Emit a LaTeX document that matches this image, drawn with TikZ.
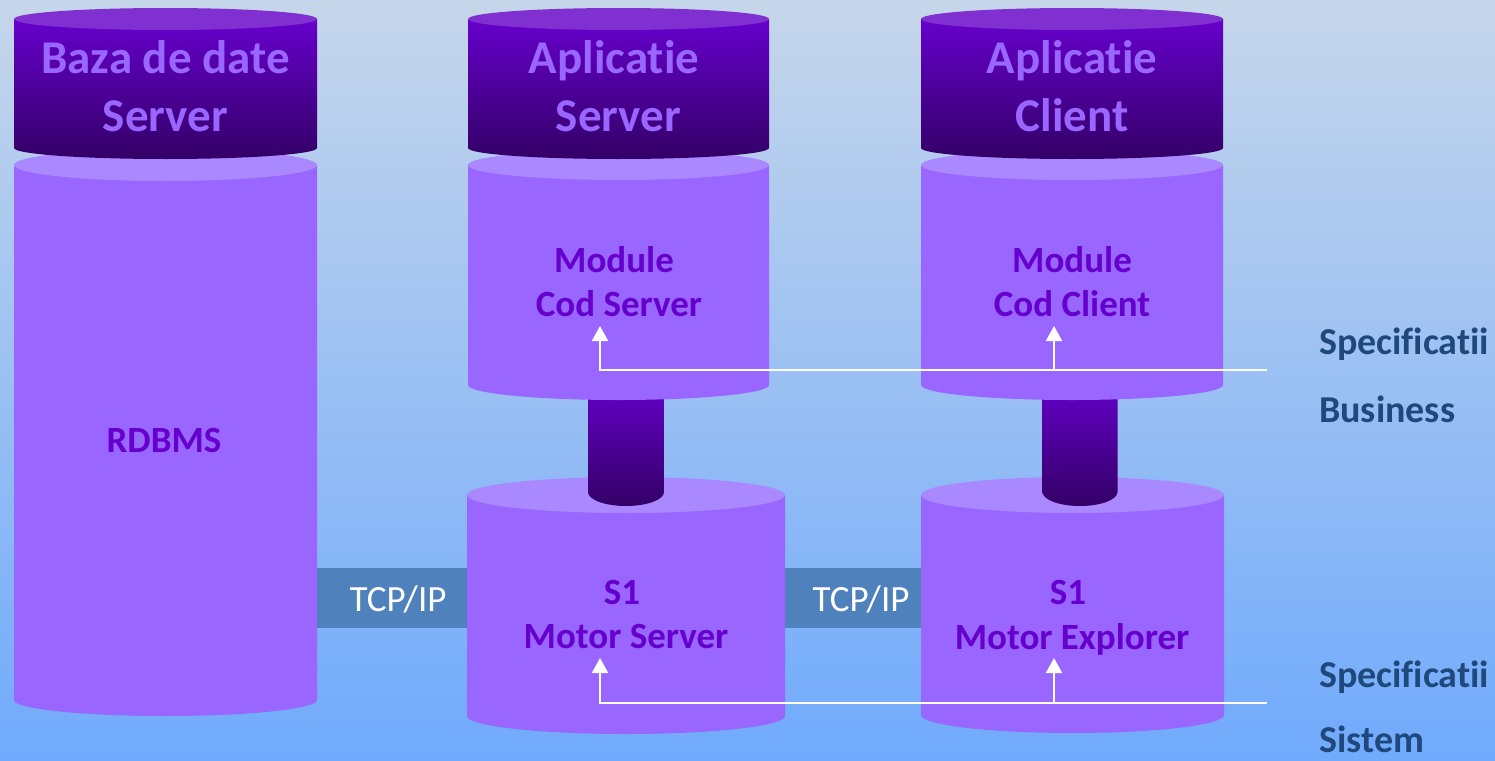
\documentclass[tikz,border=0pt]{standalone}
\usepackage{fontspec}
\setmainfont{Carlito}[Ligatures={NoCommon}]
\usetikzlibrary{arrows.meta}
\definecolor{bgtop}{HTML}{C6D6EA}
\definecolor{bgmid}{HTML}{94C4F8}
\definecolor{bgbot}{HTML}{70AAFC}
\definecolor{darkA}{HTML}{6600CC}
\definecolor{darkB}{HTML}{330066}
\definecolor{darkface}{HTML}{8030D0}
\definecolor{litebody}{HTML}{9966FF}
\definecolor{liteface}{HTML}{AA88FF}
\definecolor{tcpblue}{HTML}{4F81BD}
\definecolor{spectext}{HTML}{1F497D}
% cylinder: cx, rx, ytop, ybot, ry, body style, top face style
\newcommand\mycyl[7]{%
  \path[#6] ({#1-#2},#3) -- ({#1-#2},#4) arc[start angle=180,end angle=360,x radius=#2pt,y radius=#5pt] -- ({#1+#2},#3) -- cycle;
  \fill[#7] (#1,#3) ellipse[x radius=#2pt,y radius=#5pt];}
\tikzset{
  hdr/.style={font=\fontsize{47}{56}\selectfont\bfseries, text=litebody, inner sep=0pt, anchor=base},
  lbl/.style={font=\fontsize{37}{44}\selectfont\bfseries, text=darkA, inner sep=0pt, anchor=base},
  spec/.style={font=\fontsize{38}{44}\selectfont\bfseries, text=spectext, inner sep=0pt, anchor=base west},
  tcpband/.style={fill=tcpblue, draw=none, minimum height=60pt, inner sep=0pt},
  tcptext/.style={font=\fontsize{37}{44}\selectfont, text=white, inner sep=0pt, anchor=base},
  darkbody/.style={top color=darkA, bottom color=darkB},
  litefill/.style={fill=litebody},
  specarrow/.style={draw=white, line width=2pt, line join=miter, -{Triangle[width=16pt,length=15pt]}}
}
\begin{document}
\begin{tikzpicture}[x=1pt,y=-1pt]
\useasboundingbox (0,0) rectangle (1495,760);
\shade[top color=bgtop, middle color=bgmid, bottom color=bgbot] (0,0) rectangle (1495,760);

% TCP/IP bands (behind cylinders)
\node[tcpband, minimum width=196pt] (tcpA) at (398,598) {};
\node[tcpband, minimum width=170pt] (tcpB) at (861,598) {};

% column 1
\mycyl{165.5}{151.5}{165}{700}{16}{litefill}{fill=liteface}
\mycyl{165.5}{151.5}{19}{148}{11}{darkbody}{fill=darkface}

% column 2
\mycyl{626}{159}{495}{716}{18}{litefill}{fill=liteface}
\mycyl{626}{38}{380}{492}{14}{darkbody}{fill=darkA}
\mycyl{618.5}{150.5}{165}{385}{15}{litefill}{fill=liteface}
\mycyl{618.5}{150.5}{19}{148}{11}{darkbody}{fill=darkface}

% column 3
\mycyl{1072.5}{151.5}{495}{715}{18}{litefill}{fill=liteface}
\mycyl{1080}{37.5}{380}{492}{14}{darkbody}{fill=darkA}
\mycyl{1072}{151}{165}{385}{15}{litefill}{fill=liteface}
\mycyl{1072}{151}{19}{148}{11}{darkbody}{fill=darkface}

% headers
\node[hdr] (dbA) at (165.5,74) {Baza de date};
\node[hdr] (dbB) at (165.5,131) {Server};
\node[hdr] (asA) at (614,74) {Aplicatie};
\node[hdr] (asB) at (618.5,131) {Server};
\node[hdr] (acA) at (1072,74) {Aplicatie};
\node[hdr] (acB) at (1072,131) {Client};

% inner labels
\node[lbl] (rdbms) at (164,452) {RDBMS};
\node[lbl] (mcsA) at (614,272) {Module};
\node[lbl] (mcsB) at (619,316) {Cod Server};
\node[lbl] (mccA) at (1072,272) {Module};
\node[lbl] (mccB) at (1072,316) {Cod Client};
\node[lbl] (msA) at (622,604) {S1};
\node[lbl] (msB) at (626,648) {Motor Server};
\node[lbl] (meA) at (1068,604) {S1};
\node[lbl] (meB) at (1072,649) {Motor Explorer};

% TCP/IP labels
\node[tcptext] (tcpAt) at (398,611) {TCP/IP};
\node[tcptext] (tcpBt) at (861,611) {TCP/IP};

% specification labels
\node[spec] (specB1) at (1319,354) {Specificatii};
\node[spec] (specB2) at (1319,422) {Business};
\node[spec] (specS1) at (1319,687) {Specificatii};
\node[spec] (specS2) at (1319,752) {Sistem};

% arrows
\coordinate (bizEnd) at (1267,370);
\coordinate (bizMid) at (1054,370);
\coordinate (bizLeft) at (600,370);
\coordinate (bizTipA) at (600,326);
\coordinate (bizTipB) at (1054,326);
\draw[specarrow] (bizEnd) -- (bizLeft) -- (bizTipA);
\draw[specarrow] (bizMid) -- (bizTipB);

\coordinate (sysEnd) at (1267,703);
\coordinate (sysMid) at (1054,703);
\coordinate (sysLeft) at (600,703);
\coordinate (sysTipA) at (600,658);
\coordinate (sysTipB) at (1054,658);
\draw[specarrow] (sysEnd) -- (sysLeft) -- (sysTipA);
\draw[specarrow] (sysMid) -- (sysTipB);
\end{tikzpicture}
\end{document}
